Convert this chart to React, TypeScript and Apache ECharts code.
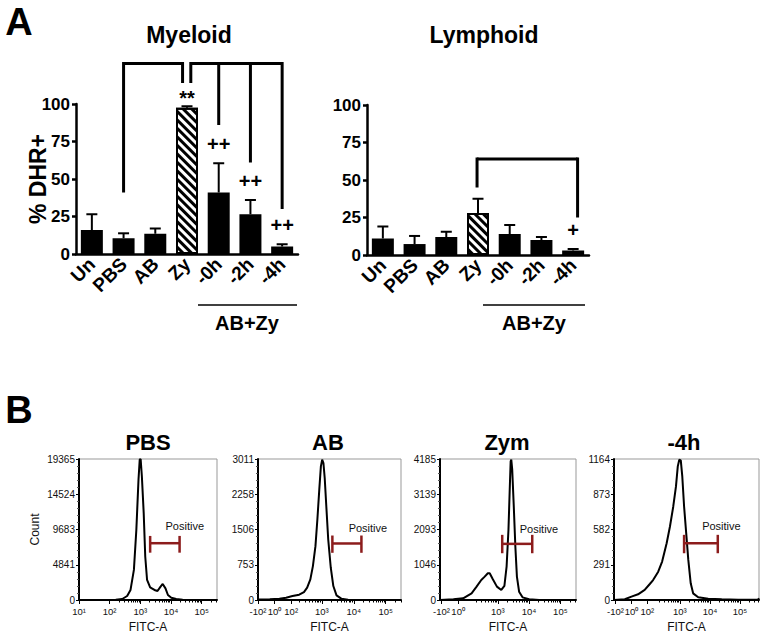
import React, { useEffect, useRef } from 'react';
import * as echarts from 'echarts';

// ---------- Panel A data ----------
const categories = ['Un', 'PBS', 'AB', 'Zy', '-0h', '-2h', '-4h'];
const myeloidMean = [16, 10.5, 13.5, 97.5, 41, 26.5, 5];
const myeloidErr = [10.5, 3.3, 3.5, 1, 19.5, 9.5, 1.5];
const lymphoidMean = [11, 7.3, 12, 28, 14, 10, 3];
const lymphoidErr = [8, 5.4, 3.5, 9.5, 6, 2, 1];
const myeloidSig = ['', '', '', '**', '++', '++', '++'];
const lymphoidSig = ['', '', '', '', '', '', '+'];
const hatchedIndex = 3;
const yTicksA = [0, 25, 50, 75, 100];
// brackets: top value, legs [category position, bottom value]
const myeloidBrackets = [
  { top: 127, legs: [[1, 41], [2.86, 114]] },
  { top: 127, legs: [[3.12, 114], [4, 86], [5, 61], [6, 30]] },
];
const lymphoidBrackets = [{ top: 64, legs: [[2.97, 45], [6.14, 25]] }];

// ---------- Panel B data (x in decades of display scale) ----------
const pbsX = [1, 2.2, 2.41, 2.57, 2.68, 2.79, 2.87, 2.94, 2.98, 3.01, 3.05, 3.11, 3.16, 3.22, 3.32, 3.46, 3.56, 3.66, 3.73, 3.82, 3.9, 4.01, 4.17, 4.38, 4.97, 5.5];
const pbsY = [0, 20, 140, 550, 1380, 4130, 9640, 16520, 19280, 19365, 17000, 11930, 5970, 2750, 1740, 1380, 1240, 1840, 2200, 1600, 690, 320, 140, 50, 0, 0];
const abX = [1.0, 1.37, 1.67, 1.88, 2.08, 2.29, 2.44, 2.54, 2.64, 2.72, 2.8, 2.86, 2.92, 2.97, 3.01, 3.05, 3.09, 3.14, 3.2, 3.28, 3.36, 3.46, 3.61, 3.82, 4.33, 5.48];
const abY = [10, 14, 28, 50, 85, 114, 170, 263, 440, 724, 1150, 1718, 2357, 2854, 2996, 2925, 2606, 2002, 1292, 689, 298, 99, 28, 7, 0, 0];
const zymX = [1.15, 1.58, 1.89, 2.16, 2.32, 2.47, 2.58, 2.68, 2.74, 2.84, 2.97, 3.11, 3.21, 3.28, 3.34, 3.38, 3.41, 3.43, 3.46, 3.51, 3.56, 3.61, 3.68, 3.79, 4.0, 4.32, 5.5];
const zymY = [0, 20, 50, 198, 397, 595, 694, 793, 793, 615, 397, 298, 417, 992, 2083, 3273, 4116, 4165, 3867, 2777, 1587, 694, 248, 79, 20, 0, 0];
const m4hX = [0.81, 1.17, 1.39, 1.61, 1.83, 2.0, 2.11, 2.28, 2.41, 2.56, 2.67, 2.78, 2.87, 2.93, 2.98, 3.03, 3.08, 3.14, 3.21, 3.28, 3.36, 3.44, 3.61, 3.94, 4.39, 4.94, 5.6, 5.63];
const m4hY = [0, 6, 28, 47, 83, 132, 165, 234, 317, 469, 607, 772, 938, 1103, 1158, 1153, 1020, 772, 552, 331, 138, 55, 22, 11, 6, 3, 3, 15];

const histTitles = ['PBS', 'AB', 'Zym', '-4h'];
const histMax = [19365, 3011, 4185, 1164];
const histXMin = [1, 1.0, 1.15, 0.81];
const histXMax = [5.5, 5.48, 5.5, 5.63];
const pbsTicks = [1, 2, 3, 4, 5];
const pbsTickLabels = ['10¹', '10²', '10³', '10⁴', '10⁵'];
const abTicks = [1.0, 1.52, 2.04, 3, 4, 5];
const abTickLabels = ['-10²', '10⁰', '10²', '10³', '10⁴', '10⁵'];
const zymTicks = [1.2, 1.73, 3, 4, 5];
const zymTickLabels = ['-10²', '10⁰', '10³', '10⁴', '10⁵'];
const m4hTicks = [0.86, 1.39, 1.92, 3, 4, 5];
const m4hTickLabels = ['-10²', '10⁰', '10²', '10³', '10⁴', '10⁵'];
// gates: [x1, x2, y, capLow, capHigh, labelX, labelY]
const pbsGate = [3.32, 4.28, 7800, 6500, 8800, 3.82, 10100];
const abGate = [3.33, 4.24, 1207, 1008, 1377, 3.84, 1540];
const zymGate = [3.14, 4.1, 1666, 1388, 1934, 3.7, 2100];
const m4hGate = [3.14, 4.26, 469, 386, 538, 3.74, 607];

const FONT = 'Arial, "Liberation Sans", Helvetica, sans-serif';

const histX = [pbsX, abX, zymX, m4hX];
const histY = [pbsY, abY, zymY, m4hY];
const histTicks = [pbsTicks, abTicks, zymTicks, m4hTicks];
const histTickLabels = [pbsTickLabels, abTickLabels, zymTickLabels, m4hTickLabels];
const histGates = [pbsGate, abGate, zymGate, m4hGate];

const histGrids = [
  { left: 79, top: 459, width: 138, height: 141 },
  { left: 258, top: 459, width: 143, height: 141 },
  { left: 440, top: 459, width: 136, height: 141 },
  { left: 614, top: 459, width: 145, height: 141 },
];
const histTitleX = [148, 328, 507, 684];

function minorTicks(min: number, max: number) {
  const out: number[] = [];
  for (let k = 0; k <= 5; k++) {
    for (let m = 2; m <= 9; m++) {
      const v = k + Math.log10(m);
      if (v > Math.max(min, 2.1) && v < max) out.push(v);
    }
  }
  return out;
}

function catX(api: any, pos: number, val: number) {
  const base = Math.floor(pos);
  const p = api.coord([base, val]);
  const bw = api.size([1, 0])[0];
  return [p[0] + (pos - base) * bw, p[1]];
}

function bracketRender(brackets: any[]) {
  return (params: any, api: any) => {
    const children: any[] = [];
    brackets.forEach((b) => {
      const legs = b.legs.map((l: number[]) => ({
        top: catX(api, l[0], b.top),
        bot: catX(api, l[0], l[1]),
      }));
      children.push({
        type: 'polyline',
        shape: { points: [legs[0].top, legs[legs.length - 1].top] },
        style: { stroke: '#000', lineWidth: 3, fill: null },
      });
      legs.forEach((l: any) => {
        children.push({
          type: 'line',
          shape: { x1: l.top[0], y1: l.top[1] - 1.5, x2: l.bot[0], y2: l.bot[1] },
          style: { stroke: '#000', lineWidth: 3 },
        });
      });
    });
    return { type: 'group', children };
  };
}

function errRender(sig: string[]) {
  return (params: any, api: any) => {
    const i = api.value(0);
    const m = api.value(1);
    const e = api.value(2);
    const p0 = api.coord([i, m]);
    const p1 = api.coord([i, m + e]);
    const children: any[] = [
      { type: 'line', shape: { x1: p0[0], y1: p0[1], x2: p1[0], y2: p1[1] }, style: { stroke: '#000', lineWidth: 2 } },
      { type: 'line', shape: { x1: p1[0] - 5.5, y1: p1[1], x2: p1[0] + 5.5, y2: p1[1] }, style: { stroke: '#000', lineWidth: 2 } },
    ];
    const s = sig[i];
    if (s) {
      children.push({
        type: 'text',
        x: p1[0],
        y: p1[1] - (s.indexOf('*') >= 0 ? 8 : 19),
        style: {
          text: s, fontSize: 20, fontWeight: 'bold', fontFamily: FONT, fill: '#000',
          align: 'center', verticalAlign: 'middle', textAlign: 'center', textVerticalAlign: 'middle',
        },
      });
    }
    return { type: 'group', children };
  };
}

function gateRender(params: any, api: any) {
  const x1 = api.value(0), x2 = api.value(1), y = api.value(2), lo = api.value(3), hi = api.value(4);
  const lx = api.value(5), ly = api.value(6);
  const a = api.coord([x1, y]);
  const b = api.coord([x2, y]);
  const aLo = api.coord([x1, lo]);
  const aHi = api.coord([x1, hi]);
  const bLo = api.coord([x2, lo]);
  const bHi = api.coord([x2, hi]);
  const lp = api.coord([lx, ly]);
  const col = '#8c1c1c';
  return {
    type: 'group',
    children: [
      { type: 'line', shape: { x1: a[0], y1: a[1], x2: b[0], y2: b[1] }, style: { stroke: col, lineWidth: 2.5 } },
      { type: 'line', shape: { x1: aLo[0], y1: aLo[1], x2: aHi[0], y2: aHi[1] }, style: { stroke: col, lineWidth: 2.5 } },
      { type: 'line', shape: { x1: bLo[0], y1: bLo[1], x2: bHi[0], y2: bHi[1] }, style: { stroke: col, lineWidth: 2.5 } },
      {
        type: 'text', x: lp[0], y: lp[1],
        style: {
          text: 'Positive', fontSize: 11, fontFamily: FONT, fill: '#111',
          align: 'left', verticalAlign: 'middle', textAlign: 'left', textVerticalAlign: 'middle',
        },
      },
    ],
  };
}

function barData(means: number[]) {
  return means.map((v, i) =>
    i === hatchedIndex
      ? {
          value: v,
          itemStyle: {
            color: '#fff',
            borderColor: '#000',
            borderWidth: 2,
            decal: {
              symbol: 'rect',
              symbolSize: 1,
              color: '#000',
              dashArrayX: [1, 0],
              dashArrayY: [2.5, 3],
              rotation: Math.PI / 4,
            },
          },
        }
      : { value: v, itemStyle: { color: '#000' } }
  );
}

export default function App() {
  const ref = useRef<HTMLDivElement>(null);
  useEffect(() => {
    if (!ref.current) return;
    document.body.style.margin = '0';
    const chart = echarts.init(ref.current, null, { renderer: 'svg' });

    const grids: any[] = [
      { left: 76, top: 104, width: 222, height: 150 },
      { left: 367, top: 105, width: 222, height: 150 },
      ...histGrids.map((g) => ({ ...g, show: true, borderColor: '#999', borderWidth: 1, backgroundColor: 'transparent' })),
    ];

    const catAxis = (gi: number) => ({
      type: 'category',
      gridIndex: gi,
      data: categories,
      axisLine: { lineStyle: { color: '#000', width: 2.5 } },
      axisTick: { alignWithLabel: true, length: 5, lineStyle: { color: '#000', width: 2.5 } },
      axisLabel: { rotate: 45, interval: 0, fontSize: 19, fontWeight: 'bold', color: '#000', fontFamily: FONT, margin: 7 },
    });
    const valAxisA = (gi: number, name: string) => ({
      type: 'value',
      gridIndex: gi,
      min: yTicksA[0],
      max: yTicksA[yTicksA.length - 1],
      interval: yTicksA[1] - yTicksA[0],
      name,
      nameLocation: 'middle',
      nameRotate: 90,
      nameGap: 27,
      nameMoveOverlap: false,
      nameTextStyle: { fontSize: 23, fontWeight: 'bold', color: '#000', fontFamily: FONT },
      axisLine: { show: true, lineStyle: { color: '#000', width: 2.5 } },
      axisTick: { show: true, length: 4, lineStyle: { color: '#000', width: 2.5 } },
      axisLabel: { fontSize: 17, fontWeight: 'bold', color: '#000', fontFamily: FONT, margin: 6 },
      splitLine: { show: false },
    });

    const xAxes: any[] = [catAxis(0), catAxis(1)];
    const yAxes: any[] = [valAxisA(0, '% DHR+'), valAxisA(1, '')];

    const fmt = (ticks: number[], labels: string[]) => (v: number) => {
      const idx = ticks.findIndex((t) => Math.abs(t - v) < 1e-6);
      return idx >= 0 ? labels[idx] : '';
    };

    histGrids.forEach((g, k) => {
      const gi = k + 2;
      const ticks = histTicks[k];
      const labels = histTickLabels[k];
      const restTicks = ticks.slice(1);
      const firstTick = ticks.slice(0, 1);
      const labelStyle = { fontSize: 9.5, color: '#111', fontFamily: FONT, margin: 6, hideOverlap: false };
      xAxes.push({
        type: 'value',
        gridIndex: gi,
        position: 'bottom',
        min: histXMin[k],
        max: histXMax[k],
        name: 'FITC-A',
        nameLocation: 'middle',
        nameGap: 21,
        nameMoveOverlap: false,
        nameTextStyle: { fontSize: 12, color: '#111', fontFamily: FONT },
        axisLine: { show: true, onZero: false, lineStyle: { color: '#000', width: 2 } },
        axisTick: { show: true, customValues: ticks, length: 4, lineStyle: { color: '#000', width: 1 } },
        axisLabel: {
          ...labelStyle,
          customValues: restTicks,
          showMinLabel: true,
          showMaxLabel: true,
          formatter: fmt(ticks, labels),
        },
        splitLine: { show: false },
      });
      xAxes.push({
        type: 'value',
        gridIndex: gi,
        position: 'bottom',
        offset: 0,
        min: histXMin[k],
        max: histXMax[k],
        axisLine: { show: false, onZero: false },
        axisLabel: {
          ...labelStyle,
          customValues: firstTick,
          showMinLabel: true,
          formatter: fmt(ticks, labels),
        },
        axisTick: { show: true, customValues: minorTicks(histXMin[k], histXMax[k]), length: 2.5, lineStyle: { color: '#000', width: 1 } },
        splitLine: { show: false },
      });
      yAxes.push({
        type: 'value',
        gridIndex: gi,
        min: 0,
        max: histMax[k],
        interval: histMax[k] / 4,
        name: k === 0 ? 'Count' : '',
        nameLocation: 'middle',
        nameRotate: 90,
        nameGap: 38,
        nameTextStyle: { fontSize: 12, color: '#111', fontFamily: FONT },
        axisLine: { show: true, lineStyle: { color: '#000', width: 2 } },
        axisTick: { show: true, length: 3, lineStyle: { color: '#000', width: 1 } },
        minorTick: { show: true, splitNumber: 5, length: 2, lineStyle: { color: '#555', width: 1 } },
        axisLabel: {
          fontSize: 10, color: '#111', fontFamily: FONT, margin: 4,
          formatter: (v: number) => String(Math.round(v)),
        },
        splitLine: { show: false },
        minorSplitLine: { show: false },
      });
    });

    const series: any[] = [
      { type: 'bar', xAxisIndex: 0, yAxisIndex: 0, barWidth: 22, data: barData(myeloidMean), z: 2 },
      { type: 'bar', xAxisIndex: 1, yAxisIndex: 1, barWidth: 22, data: barData(lymphoidMean), z: 2 },
      {
        type: 'custom', xAxisIndex: 0, yAxisIndex: 0, z: 3,
        renderItem: errRender(myeloidSig),
        data: myeloidMean.map((m, i) => [i, m, myeloidErr[i]]),
      },
      {
        type: 'custom', xAxisIndex: 1, yAxisIndex: 1, z: 3,
        renderItem: errRender(lymphoidSig),
        data: lymphoidMean.map((m, i) => [i, m, lymphoidErr[i]]),
      },
      { type: 'custom', xAxisIndex: 0, yAxisIndex: 0, z: 3, clip: false, renderItem: bracketRender(myeloidBrackets), data: [[0, 0]] },
      { type: 'custom', xAxisIndex: 1, yAxisIndex: 1, z: 3, clip: false, renderItem: bracketRender(lymphoidBrackets), data: [[0, 0]] },
    ];

    histGrids.forEach((g, k) => {
      const xi = 2 + k * 2;
      const yi = 2 + k;
      series.push({
        type: 'line',
        xAxisIndex: xi,
        yAxisIndex: yi,
        showSymbol: false,
        symbol: 'none',
        lineStyle: { color: '#000', width: 2 },
        data: histX[k].map((x, i) => [x, histY[k][i]]),
        z: 3,
      });
      series.push({
        type: 'custom',
        xAxisIndex: xi,
        yAxisIndex: yi,
        z: 4,
        renderItem: gateRender,
        data: [histGates[k]],
      });
    });

    const txt = (text: string, x: number, y: number, size: number, weight = 'bold') => ({
      type: 'text',
      x,
      y,
      style: {
        text, fontSize: size, fontWeight: weight, fontFamily: FONT, fill: '#000',
        align: 'center', verticalAlign: 'middle', textAlign: 'center', textVerticalAlign: 'middle',
      },
    });
    const hline = (x1: number, x2: number, y: number) => ({
      type: 'line',
      shape: { x1, y1: y, x2, y2: y },
      style: { stroke: '#000', lineWidth: 1.3 },
    });

    const graphic: any[] = [
      txt('A', 19, 22, 38),
      txt('Myeloid', 189, 35, 23),
      txt('Lymphoid', 484, 35, 23),
      hline(198, 297, 305),
      txt('AB+Zy', 247, 323, 20),
      hline(483, 585, 305),
      txt('AB+Zy', 534, 323, 20),
      txt('B', 19, 410, 38),
      ...histTitles.map((t, k) => txt(t, histTitleX[k], 442, 22)),
    ];

    chart.setOption({
      animation: false,
      backgroundColor: '#fff',
      grid: grids,
      xAxis: xAxes,
      yAxis: yAxes,
      series,
      graphic,
    });
    return () => chart.dispose();
  }, []);
  return <div ref={ref} style={{ position: 'fixed', left: 0, top: 0, width: 764, height: 638 }} />;
}
